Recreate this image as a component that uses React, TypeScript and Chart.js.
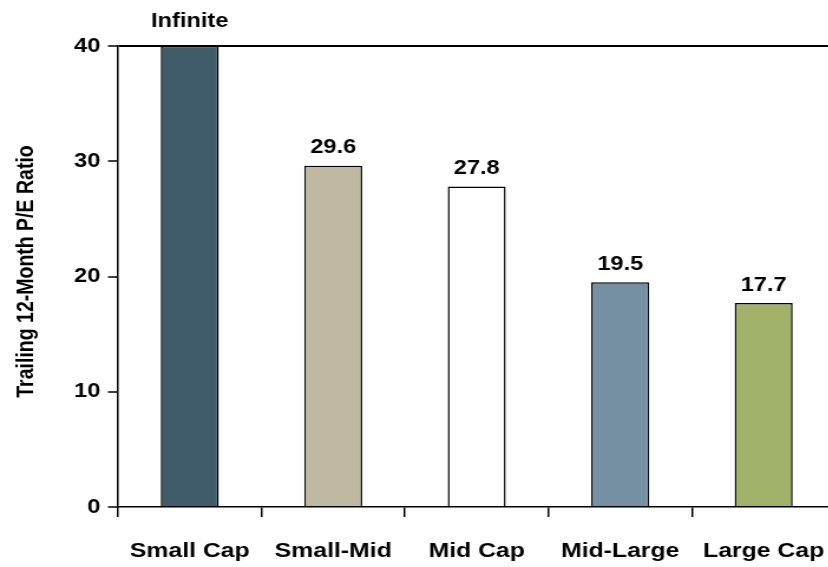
import React, { useEffect, useRef } from "react";
import { Chart, registerables } from "chart.js";

Chart.register(...registerables);

const categories = ["Small Cap", "Small-Mid", "Mid Cap", "Mid-Large", "Large Cap"];
// Small Cap P/E is infinite; its bar is drawn up to the axis maximum (40)
const peValues = [40, 29.6, 27.8, 19.5, 17.7];
const valueLabels = ["Infinite", "29.6", "27.8", "19.5", "17.7"];
const barColors = ["#405b69", "#bfb9a2", "#ffffff", "#7590a3", "#a1b36a"];
const yTicks = [0, 10, 20, 30, 40];
const yTitle = "Trailing 12-Month P/E Ratio";

const FONT = "'Liberation Sans', Arial, Helvetica, sans-serif";
const STRETCH = 1.18; // horizontal stretch of the whole picture
const INNER_W = 712;
const H = 567;

const valueLabelPlugin = {
  id: "valueLabels",
  afterDatasetsDraw(chart: any) {
    const ctx = chart.ctx;
    const meta = chart.getDatasetMeta(0);
    const yMax = chart.scales.y.max;
    ctx.save();
    ctx.font = `bold 20px ${FONT}`;
    ctx.fillStyle = "#000";
    ctx.textAlign = "center";
    ctx.textBaseline = "alphabetic";
    meta.data.forEach((bar: any, i: number) => {
      const gap = peValues[i] >= yMax ? 19.5 : 12.5;
      ctx.fillText(valueLabels[i], bar.x, bar.y - gap);
    });
    ctx.restore();
  },
  afterDraw(chart: any) {
    const ctx = chart.ctx;
    ctx.save();
    ctx.font = `bold 19.5px ${FONT}`;
    ctx.fillStyle = "#000";
    ctx.textAlign = "center";
    ctx.textBaseline = "alphabetic";
    ctx.translate(28, 271.5);
    ctx.rotate(-Math.PI / 2);
    ctx.fillText(yTitle, 0, 0);
    ctx.restore();
  },
};

export default function App() {
  const canvasRef = useRef<HTMLCanvasElement | null>(null);

  useEffect(() => {
    if (!canvasRef.current) return;
    const chart = new Chart(canvasRef.current, {
      type: "bar",
      data: {
        labels: categories,
        datasets: [
          {
            data: peValues,
            backgroundColor: barColors,
            borderColor: "#000",
            borderWidth: 1.5,
            categoryPercentage: 1,
            barPercentage: 0.404,
          },
        ],
      },
      options: {
        animation: false,
        responsive: false,
        devicePixelRatio: 1,
        layout: { padding: { left: 0, right: 4, top: 46, bottom: 0 } },
        plugins: {
          legend: { display: false },
          tooltip: { enabled: false },
        },
        scales: {
          x: {
            offset: true,
            grid: {
              display: true,
              offset: true,
              drawOnChartArea: false,
              drawTicks: true,
              tickLength: 10,
              color: "#000",
              tickColor: "#000",
              lineWidth: 1.5,
              tickWidth: 1.5,
            },
            border: { display: true, color: "#000", width: 1.5 },
            ticks: {
              color: "#000",
              font: { family: FONT, size: 21, weight: "bold" },
              padding: 22,
              maxRotation: 0,
              autoSkip: false,
            },
            afterFit(scale: any) {
              scale.height = 60;
              scale.paddingLeft = 0;
              scale.paddingRight = 0;
            },
          },
          y: {
            min: 0,
            max: 40,
            afterBuildTicks(scale: any) {
              scale.ticks = yTicks.map((v) => ({ value: v }));
            },
            grid: {
              display: true,
              drawTicks: true,
              tickLength: 8.5,
              color: (c: any) => (c.tick && c.tick.value === 40 ? "#000" : "rgba(0,0,0,0)"),
              tickColor: "#000",
              lineWidth: 2,
              tickWidth: 1.5,
            },
            border: { display: true, color: "#000", width: 1.5 },
            ticks: {
              color: "#000",
              font: { family: FONT, size: 20, weight: "bold" },
              padding: 6.5,
            },
            afterFit(scale: any) {
              scale.width = 100;
              scale.paddingTop = 0;
              scale.paddingBottom = 0;
            },
          },
        },
      },
      plugins: [valueLabelPlugin],
    });
    return () => chart.destroy();
  }, []);

  return (
    <div
      style={{
        position: "absolute",
        left: 0,
        top: 0,
        width: 828,
        height: H,
        overflow: "hidden",
        background: "#fff",
      }}
    >
      <div style={{ transform: `scaleX(${STRETCH})`, transformOrigin: "0 0", width: INNER_W, height: H }}>
        <canvas
          ref={canvasRef}
          width={INNER_W}
          height={H}
          style={{ display: "block", width: INNER_W, height: H }}
        />
      </div>
    </div>
  );
}
